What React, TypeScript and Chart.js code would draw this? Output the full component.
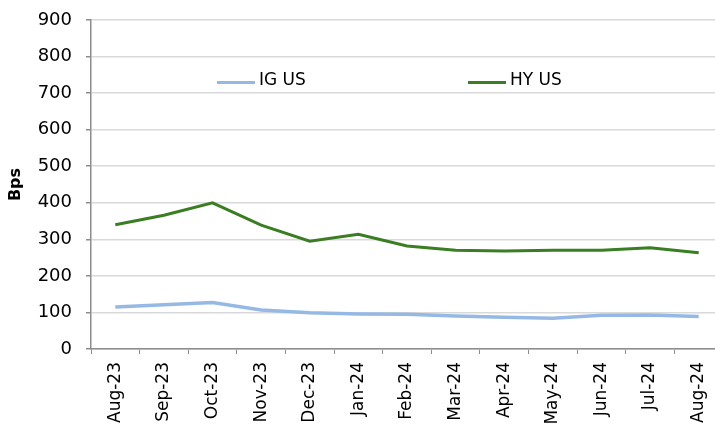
import { useEffect, useRef } from "react";
import { Chart, registerables } from "chart.js";

Chart.register(...registerables);

const categories = [
  "Aug-23", "Sep-23", "Oct-23", "Nov-23", "Dec-23", "Jan-24", "Feb-24",
  "Mar-24", "Apr-24", "May-24", "Jun-24", "Jul-24", "Aug-24",
];
const igUS = [115, 121, 127, 107, 99, 96, 95, 90, 87, 84, 92, 93, 89];
const hyUS = [340, 366, 400, 339, 295, 314, 282, 270, 268, 270, 270, 277, 263];
const yMin = 0;
const yMax = 900;
const yStep = 100;
const yTitle = "Bps";
const seriesNames = ["IG US", "HY US"];
const seriesColors = ["#95b9e4", "#3a7d23"];

export default function App() {
  const ref = useRef<HTMLCanvasElement>(null);

  useEffect(() => {
    if (!ref.current) return;
    const inlineLegend = {
      id: "inlineLegend",
      afterDatasetsDraw(chart: any) {
        const { ctx, chartArea } = chart;
        const offsets = [126, 377];
        const y = chartArea.top + 61;
        ctx.save();
        chart.data.datasets.forEach((ds: any, i: number) => {
          const x0 = chartArea.left + offsets[i];
          ctx.strokeStyle = ds.borderColor;
          ctx.lineWidth = 3;
          ctx.beginPath();
          ctx.moveTo(x0, y + 1.5);
          ctx.lineTo(x0 + 38, y + 1.5);
          ctx.stroke();
          ctx.fillStyle = "#000";
          ctx.font = "17px 'DejaVu Sans'";
          ctx.textBaseline = "middle";
          ctx.textAlign = "left";
          ctx.fillText(ds.label, x0 + 42, y);
        });
        ctx.restore();
      },
    };

    const chart = new Chart(ref.current, {
      type: "line",
      data: {
        labels: categories,
        datasets: [
          {
            label: seriesNames[0],
            data: igUS,
            borderColor: seriesColors[0],
            backgroundColor: seriesColors[0],
            borderWidth: 3.5,
            pointRadius: 0,
            tension: 0,
          },
          {
            label: seriesNames[1],
            data: hyUS,
            borderColor: seriesColors[1],
            backgroundColor: seriesColors[1],
            borderWidth: 3,
            pointRadius: 0,
            tension: 0,
          },
        ],
      },
      options: {
        responsive: false,
        animation: false,
        devicePixelRatio: 1,
        layout: { padding: { left: 0, right: 9, top: 20, bottom: 0 } },
        font: { family: "'DejaVu Sans'" },
        plugins: {
          legend: { display: false },
          tooltip: { enabled: false },
        },
        scales: {
          x: {
            offset: true,
            grid: {
              offset: true,
              display: true,
              drawOnChartArea: false,
              drawTicks: true,
              tickLength: 5,
              color: "#8c8c8c",
              tickColor: "#8c8c8c",
            },
            border: { display: true, color: "#8c8c8c", width: 1.5 },
            ticks: {
              autoSkip: false,
              minRotation: 90,
              maxRotation: 90,
              padding: 8,
              color: "#000",
              font: { family: "'DejaVu Sans'", size: 17 },
            },
            afterFit(scale: any) {
              scale.height = 78;
            },
          },
          y: {
            min: yMin,
            max: yMax,
            grid: {
              color: "#d9d9d9",
              lineWidth: 1.5,
              tickColor: "#8c8c8c",
              tickLength: 5,
              drawTicks: true,
            },
            border: { display: true, color: "#8c8c8c", width: 1.5 },
            ticks: {
              stepSize: yStep,
              padding: 14,
              color: "#000",
              font: { family: "'DejaVu Sans'", size: 18 },
            },
            title: {
              display: true,
              text: yTitle,
              color: "#000",
              padding: { top: 6, bottom: 0 },
              font: { family: "'DejaVu Sans'", size: 16, weight: "bold" },
            },
            afterFit(scale: any) {
              scale.width = 91;
              scale.paddingTop = 0;
              scale.paddingBottom = 0;
            },
          },
        },
      },
      plugins: [inlineLegend],
    });
    return () => chart.destroy();
  }, []);

  return (
    <div
      style={{
        position: "fixed",
        left: 0,
        top: 0,
        width: 715,
        height: 427,
        overflow: "hidden",
        background: "#fff",
      }}
    >
      <canvas ref={ref} width={732} height={427} style={{ display: "block" }} />
    </div>
  );
}
